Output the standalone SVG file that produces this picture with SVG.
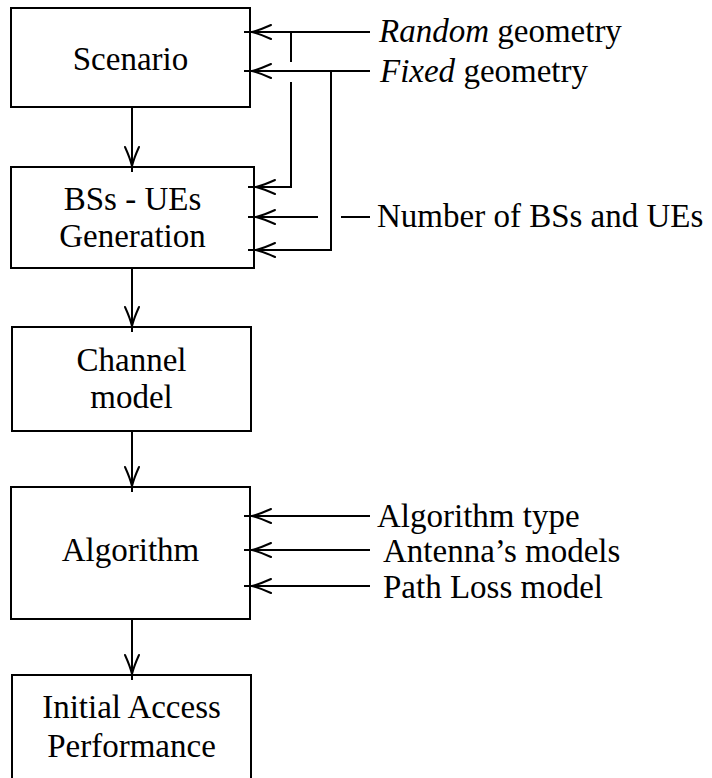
<svg xmlns="http://www.w3.org/2000/svg" width="712" height="778" viewBox="0 0 712 778" font-family="'Liberation Serif', 'DejaVu Serif', serif" font-size="33">
  <defs>
    <style>
      .box { fill: #ffffff; stroke: #000000; stroke-width: 2; }
      .wire { fill: none; stroke: #000000; stroke-width: 2; }
      .tip { fill: none; stroke: #000000; stroke-width: 2; stroke-linecap: round; }
      .c { text-anchor: middle; }
      .it { font-style: italic; }
    </style>
    <!-- open "<" head pointing left, vertex at origin -->
    <path id="headL" class="tip" d="M19,-7 Q8,-2 0,0 Q8,2 19,7"/>
    <!-- open "v" head pointing down, vertex at origin -->
    <path id="headD" class="tip" d="M-7,-19 Q-2,-8 0,0 Q2,-8 7,-19"/>
  </defs>

  <rect width="712" height="778" fill="#ffffff"/>

  <g id="scenario">
    <rect class="box" x="11" y="8" width="239" height="99"/>
    <text class="c" x="130.5" y="70">Scenario</text>
  </g>

  <g id="generation">
    <rect class="box" x="11" y="167" width="243" height="101"/>
    <text class="c" x="132.5" y="210">BSs - UEs</text>
    <text class="c" x="132.5" y="247">Generation</text>
  </g>

  <g id="channel">
    <rect class="box" x="12" y="327" width="239" height="104"/>
    <text class="c" x="131.5" y="371">Channel</text>
    <text class="c" x="131.5" y="408">model</text>
  </g>

  <g id="algorithm">
    <rect class="box" x="11" y="487" width="239" height="132"/>
    <text class="c" x="130.5" y="561">Algorithm</text>
  </g>

  <g id="performance">
    <rect class="box" x="12" y="675" width="239" height="120"/>
    <text class="c" x="131.5" y="718">Initial Access</text>
    <text class="c" x="131.5" y="757">Performance</text>
  </g>

  <g id="inputs">
    <text x="379" y="42"><tspan class="it">Random</tspan> geometry</text>
    <text x="380" y="82"><tspan class="it">Fixed</tspan> geometry</text>
    <text x="377" y="227">Number of BSs and UEs</text>
    <text x="377" y="527">Algorithm type</text>
    <text x="383" y="562">Antenna’s models</text>
    <text x="383" y="598">Path Loss model</text>
  </g>

  <g id="connectors">
    <!-- main flow -->
    <line class="wire" x1="132" y1="107" x2="132" y2="172"/>
    <use href="#headD" x="132" y="166"/>
    <line class="wire" x1="132" y1="268" x2="132" y2="332"/>
    <use href="#headD" x="132" y="326"/>
    <line class="wire" x1="132" y1="431" x2="132" y2="492"/>
    <use href="#headD" x="132" y="486"/>
    <line class="wire" x1="132" y1="619" x2="132" y2="680"/>
    <use href="#headD" x="132" y="674"/>

    <!-- random geometry: to scenario and down to generation -->
    <line class="wire" x1="244" y1="32" x2="370" y2="32"/>
    <use href="#headL" x="252" y="32"/>
    <polyline class="wire" points="291,32 291,62"/>
    <polyline class="wire" points="291,82 291,187 248,187"/>
    <use href="#headL" x="256" y="187"/>

    <!-- fixed geometry: to scenario and down to generation -->
    <line class="wire" x1="244" y1="71" x2="370" y2="71"/>
    <use href="#headL" x="252" y="71"/>
    <polyline class="wire" points="331,71 331,250 248,250"/>
    <use href="#headL" x="256" y="250"/>

    <!-- number of BSs and UEs, broken where it crosses the fixed line -->
    <line class="wire" x1="248" y1="217" x2="318" y2="217"/>
    <use href="#headL" x="256" y="217"/>
    <line class="wire" x1="341" y1="217" x2="370" y2="217"/>

    <!-- algorithm inputs -->
    <line class="wire" x1="244" y1="516" x2="370" y2="516"/>
    <use href="#headL" x="252" y="516"/>
    <line class="wire" x1="244" y1="550" x2="370" y2="550"/>
    <use href="#headL" x="252" y="550"/>
    <line class="wire" x1="244" y1="586" x2="370" y2="586"/>
    <use href="#headL" x="252" y="586"/>
  </g>
</svg>
